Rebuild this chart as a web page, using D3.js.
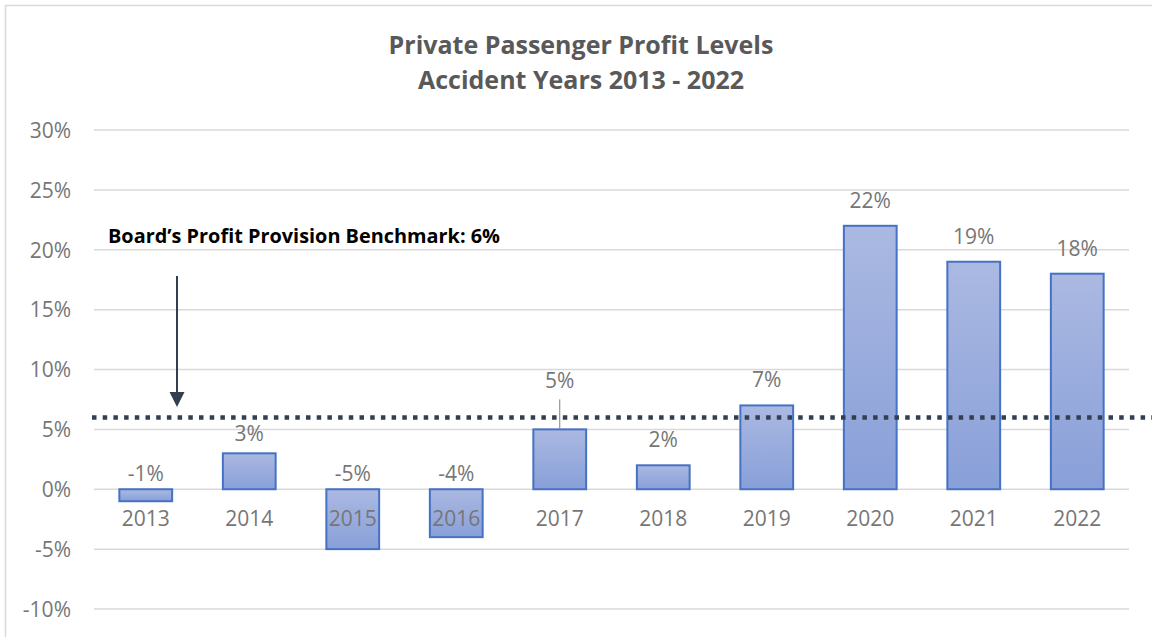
<!DOCTYPE html>
<html>
<head>
<script src="https://d3js.org/d3.v7.min.js"></script>
<style>
    body { margin: 0; background: #fff; font-family: "Open Sans", sans-serif; }
</style>
</head>
<body>
<svg id="chart" width="1152" height="637"></svg>
<script>
// data
var years = ["2013", "2014", "2015", "2016", "2017", "2018", "2019", "2020", "2021", "2022"];
var profit = [-1, 3, -5, -4, 5, 2, 7, 22, 19, 18];
var yTicks = [-10, -5, 0, 5, 10, 15, 20, 25, 30];
var benchmark = 6;
var titleLines = ["Private Passenger Profit Levels", "Accident Years 2013 - 2022"];
var benchmarkLabel = "Board\u2019s Profit Provision Benchmark: 6%";

var svg = d3.select("#chart");

// chart frame
svg.append("rect")
    .attr("x", 5.5).attr("y", 5.5)
    .attr("width", 1160).attr("height", 650)
    .attr("fill", "#fff")
    .attr("stroke", "#d9d9d9")
    .attr("stroke-width", 1.5);

var defs = svg.append("defs");
var grad = defs.append("linearGradient")
    .attr("id", "barGrad")
    .attr("x1", 0).attr("y1", 0).attr("x2", 0).attr("y2", 1);
grad.append("stop").attr("offset", "0%").attr("stop-color", "#abb9e2");
grad.append("stop").attr("offset", "100%").attr("stop-color", "#889fd8");

var left = 94, right = 1129;
var xScale = d3.scaleBand().domain(years).range([left, right]).paddingInner(0.49).paddingOuter(0.245);
var yScale = d3.scaleLinear().domain([-10, 30]).range([609, 130]);

// title
svg.append("g").selectAll("text").data(titleLines).enter().append("text")
    .attr("x", 581)
    .attr("y", function (d, i) { return 54 + i * 35; })
    .attr("text-anchor", "middle")
    .style("font-size", "25px")
    .style("font-weight", "bold")
    .attr("fill", "#595959")
    .text(function (d) { return d; });

// gridlines
svg.append("g")
    .selectAll("line").data(yTicks).enter().append("line")
    .attr("x1", left).attr("x2", right)
    .attr("y1", function (d) { return yScale(d); })
    .attr("y2", function (d) { return yScale(d); })
    .attr("stroke", "#d9d9d9")
    .attr("stroke-width", 1.5);

// y axis labels
var yAxis = svg.append("g")
    .attr("transform", "translate(" + (left - 23) + ",0)")
    .call(d3.axisLeft(yScale).tickValues(yTicks).tickSize(0).tickPadding(0)
        .tickFormat(function (d) { return d + "%"; }));
yAxis.select(".domain").remove();
yAxis.selectAll("text")
    .attr("dy", "0.35em")
    .style("font-family", "'Open Sans', sans-serif")
    .style("font-size", "21px")
    .attr("fill", "#767676");

// bars
svg.append("g")
    .selectAll("rect").data(profit).enter().append("rect")
    .attr("x", function (d, i) { return xScale(years[i]); })
    .attr("y", function (d) { return yScale(Math.max(0, d)); })
    .attr("width", xScale.bandwidth())
    .attr("height", function (d) { return Math.abs(yScale(d) - yScale(0)); })
    .attr("fill", "url(#barGrad)")
    .attr("stroke", "#4472c4")
    .attr("stroke-width", 2);

// category labels
svg.append("g")
    .selectAll("text").data(years).enter().append("text")
    .attr("x", function (d) { return xScale(d) + xScale.bandwidth() / 2; })
    .attr("y", yScale(0) + 37)
    .attr("text-anchor", "middle")
    .style("font-size", "21px")
    .attr("fill", "#767676")
    .text(function (d) { return d; });

// data labels (2017 label was dragged up in the original, with a leader line)
var nudge = { "2014": 6, "2017": -23 };
function labelY(d, i) {
    var base = d >= 0 ? yScale(d) - 18 : yScale(0) - 8;
    return base + (nudge[years[i]] || 0);
}
svg.append("g")
    .selectAll("text").data(profit).enter().append("text")
    .attr("x", function (d, i) { return xScale(years[i]) + xScale.bandwidth() / 2; })
    .attr("y", labelY)
    .attr("text-anchor", "middle")
    .style("font-size", "21px")
    .attr("fill", "#767676")
    .text(function (d) { return d + "%"; });

svg.append("line")
    .attr("x1", xScale("2017") + xScale.bandwidth() / 2)
    .attr("x2", xScale("2017") + xScale.bandwidth() / 2)
    .attr("y1", labelY(profit[4], 4) + 11)
    .attr("y2", yScale(profit[4]))
    .attr("stroke", "#7f7f7f")
    .attr("stroke-width", 1);

// benchmark dotted line
svg.append("line")
    .attr("x1", 92).attr("x2", 1160)
    .attr("y1", yScale(benchmark)).attr("y2", yScale(benchmark))
    .attr("stroke", "#333f50")
    .attr("stroke-width", 4.5)
    .attr("stroke-dasharray", "4.5 6.2");

// benchmark annotation
svg.append("text")
    .attr("x", 108).attr("y", 243)
    .attr("textLength", 392)
    .attr("lengthAdjust", "spacingAndGlyphs")
    .style("font-size", "19px")
    .style("font-weight", "bold")
    .attr("fill", "#000")
    .text(benchmarkLabel);

var arrowX = 177;
svg.append("line")
    .attr("x1", arrowX).attr("x2", arrowX)
    .attr("y1", 276).attr("y2", 396)
    .attr("stroke", "#333f50")
    .attr("stroke-width", 2);
svg.append("path")
    .attr("d", d3.line()([[arrowX - 7.5, 392], [arrowX + 7.5, 392], [arrowX, 407]]) + "Z")
    .attr("fill", "#333f50");
</script>
</body>
</html>
